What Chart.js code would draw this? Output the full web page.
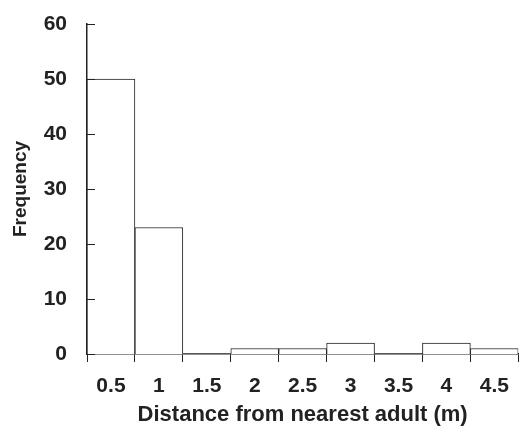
<!DOCTYPE html>
<html>
<head>
<meta charset="utf-8">
<script src="https://cdn.jsdelivr.net/npm/chart.js@4"></script>
<style>
  html, body { margin: 0; padding: 0; background: #fff; }
  #wrap { width: 521px; height: 434px; }
</style>
</head>
<body>
<div id="wrap"><canvas id="histChart" width="521" height="434"></canvas></div>
<script>
// distance bins (m) and counts
const distances = ['0.5', '1', '1.5', '2', '2.5', '3', '3.5', '4', '4.5'];
const frequency = [50, 23, 0, 1, 1, 2, 0, 2, 1];
const yTicks = [0, 10, 20, 30, 40, 50, 60];

const ink = '#222';
const face = 'Liberation Sans, Arial, Helvetica, sans-serif';

// short inward tick marks on the y axis
const innerTicks = {
    id: 'innerTicks',
    afterDraw(chart) {
        const ctx = chart.ctx;
        const y = chart.scales.y;
        ctx.save();
        ctx.strokeStyle = ink;
        ctx.lineWidth = 1;
        yTicks.forEach(function(v) {
            const py = Math.round(y.getPixelForValue(v)) + 0.5;
            ctx.beginPath();
            ctx.moveTo(y.right, py);
            ctx.lineTo(y.right + 8, py);
            ctx.stroke();
        });
        ctx.restore();
    }
};

window.onload = function() {
    const ctx = document.getElementById('histChart').getContext('2d');
    new Chart(ctx, {
        type: 'bar',
        data: {
            labels: distances,
            datasets: [{
                label: 'Frequency',
                data: frequency,
                backgroundColor: '#fff',
                borderColor: ink,
                // empty bins get no outline, the axis line is enough
                borderWidth: function(c) { return c.raw === 0 ? 0 : 1; },
                categoryPercentage: 1,
                barPercentage: 1
            }]
        },
        options: {
            responsive: false,
            animation: false,
            layout: { padding: { top: 24, right: 1, left: 0, bottom: 0 } },
            plugins: {
                legend: { display: false },
                tooltip: { enabled: false }
            },
            scales: {
                x: {
                    grid: {
                        display: true,
                        drawOnChartArea: false,
                        drawTicks: true,
                        tickLength: 8,
                        color: ink,
                        offset: true
                    },
                    border: { display: true, color: ink, width: 1.5 },
                    ticks: {
                        color: ink,
                        padding: 12,
                        maxRotation: 0,
                        font: { family: face, size: 21, weight: 'bold' }
                    },
                    title: {
                        display: true,
                        text: 'Distance from nearest adult (m)',
                        color: ink,
                        padding: { top: 3, bottom: 6 },
                        font: { family: face, size: 22, weight: 'bold' }
                    },
                    afterFit: function(scale) { scale.height = 80; }
                },
                y: {
                    min: 0,
                    max: 60,
                    grid: { display: false, drawTicks: false, tickLength: 0 },
                    border: { display: true, color: ink, width: 1.5 },
                    ticks: {
                        stepSize: 10,
                        color: ink,
                        padding: 20,
                        font: { family: face, size: 21, weight: 'bold' }
                    },
                    title: {
                        display: true,
                        text: 'Frequency',
                        color: ink,
                        padding: { top: 9, bottom: 6 },
                        font: { family: face, size: 19, weight: 'bold' }
                    },
                    afterFit: function(scale) {
                        scale.width = 87;
                        scale.paddingTop = 0;
                    }
                }
            }
        },
        plugins: [innerTicks]
    });
};
</script>
</body>
</html>
